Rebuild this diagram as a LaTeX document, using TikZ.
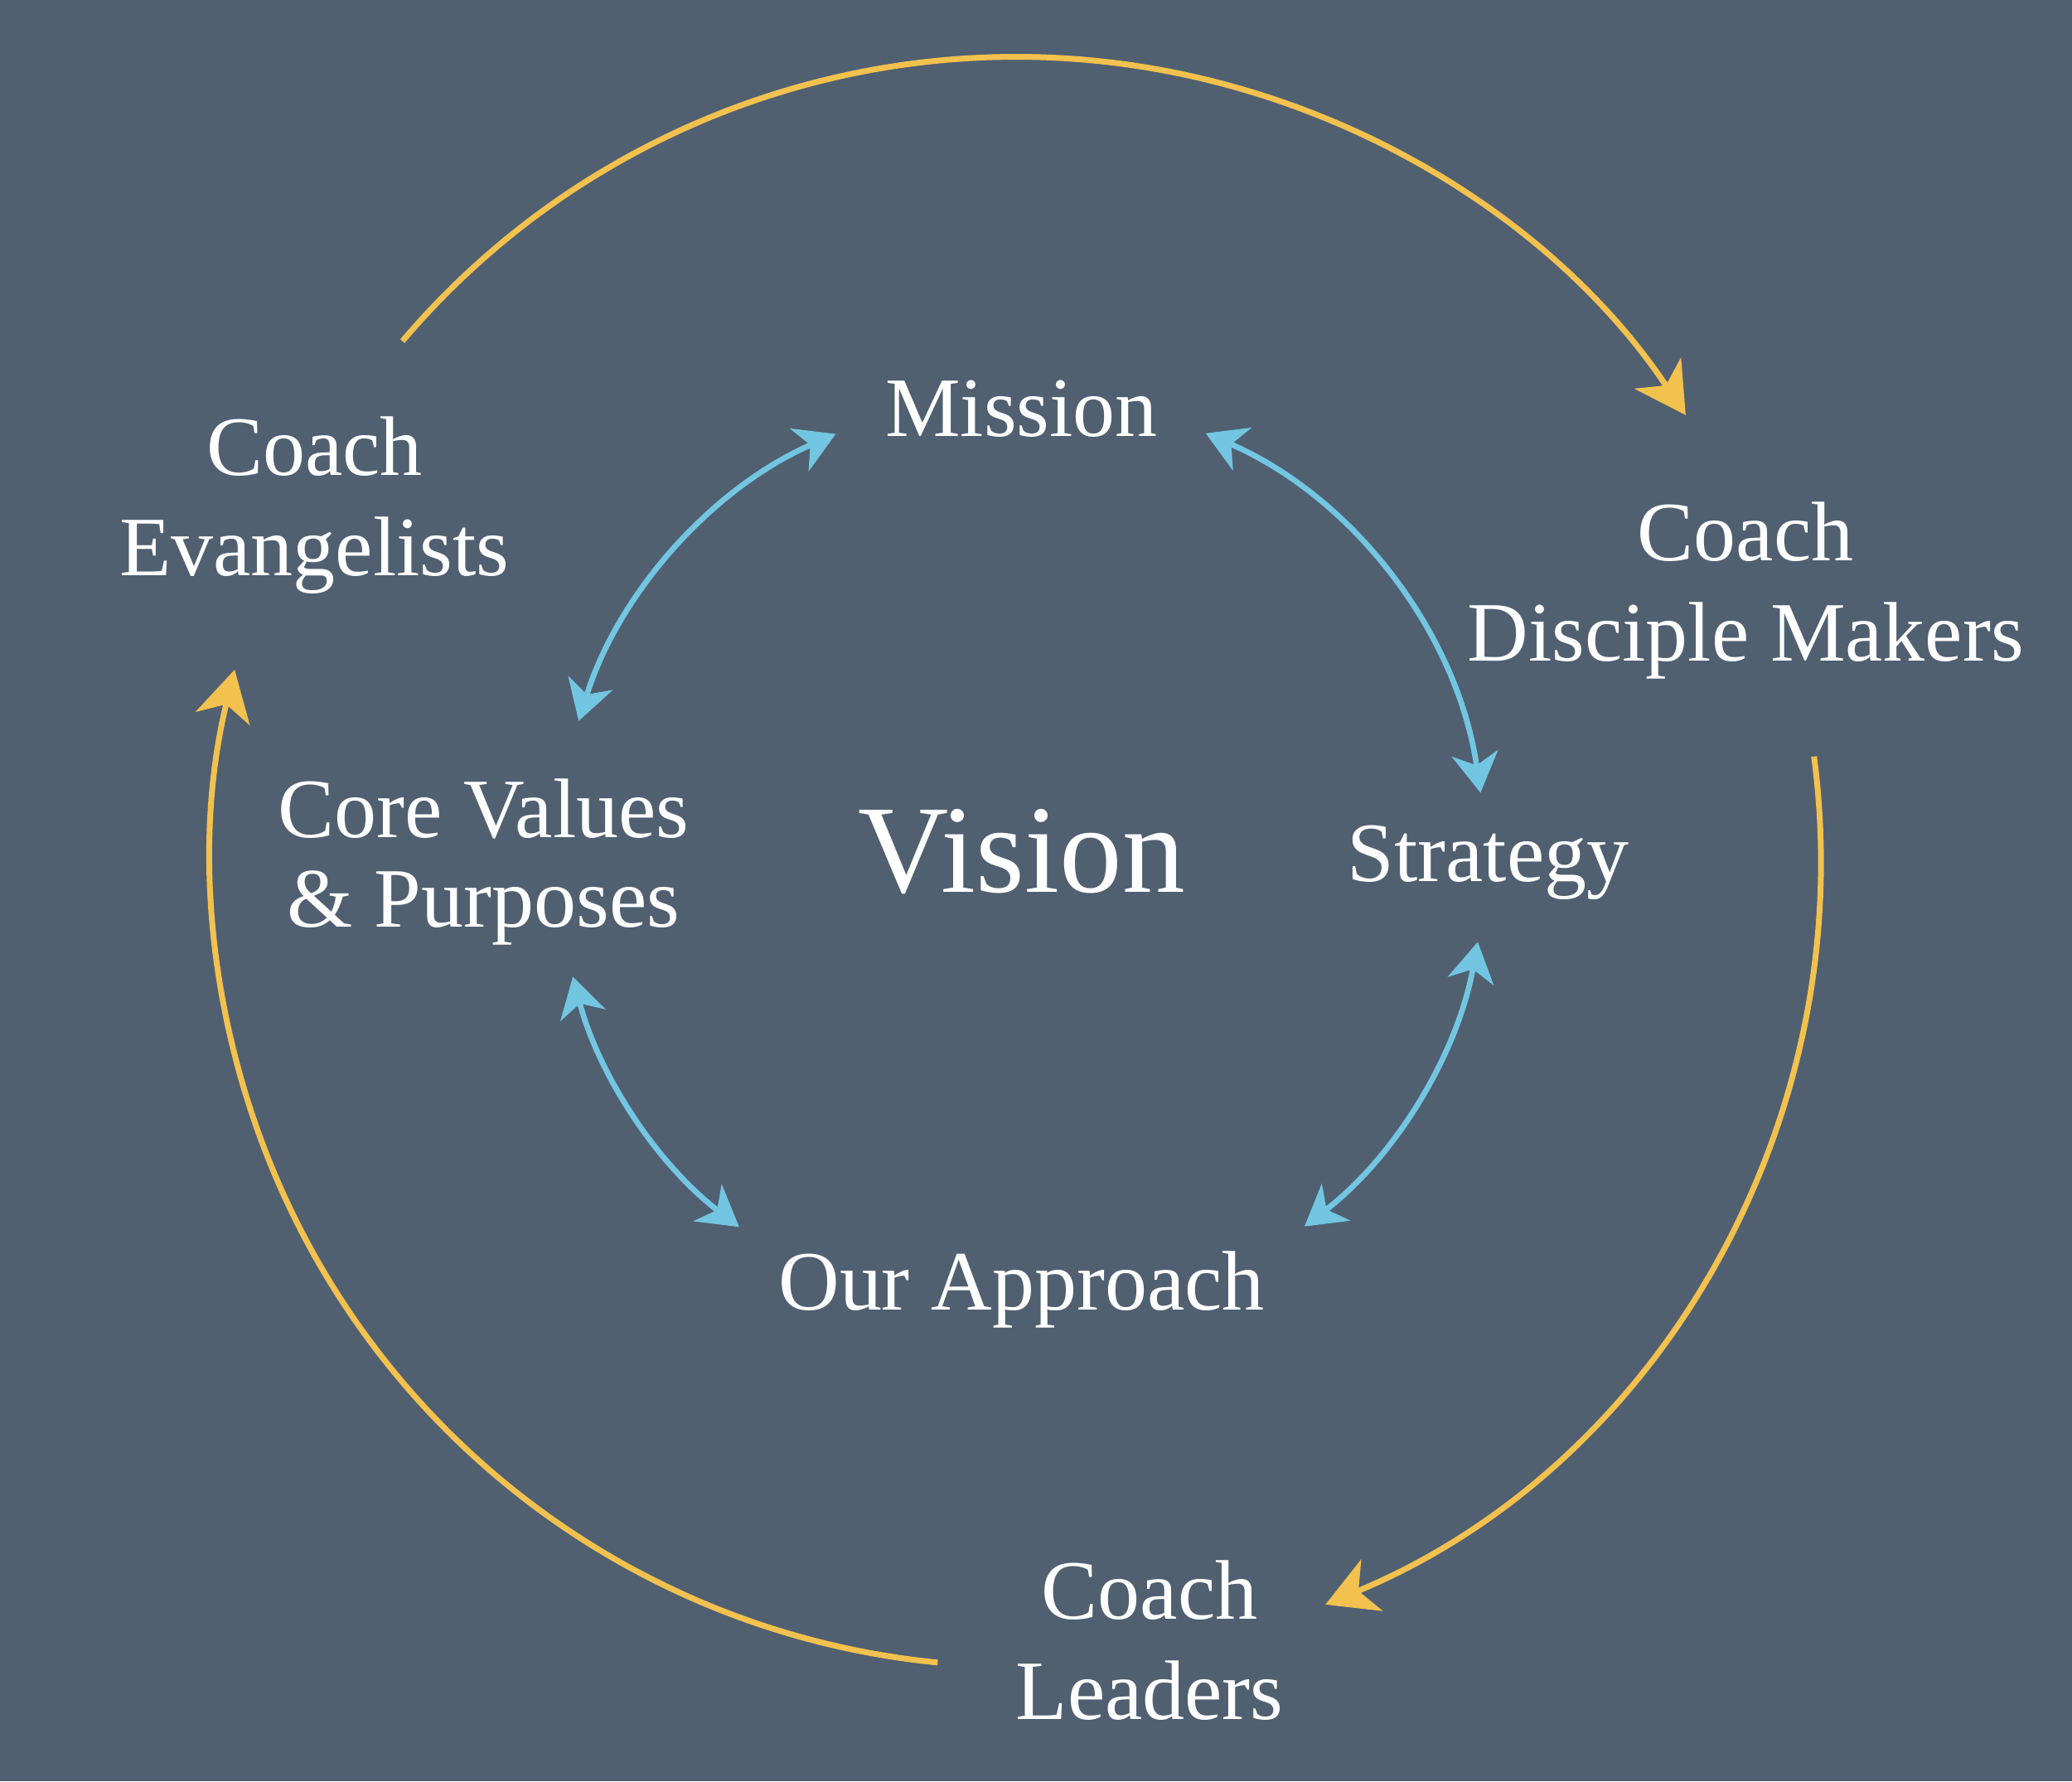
\documentclass[tikz,border=0pt]{standalone}
\usepackage{fontspec}
\setmainfont{Liberation Serif}
\usetikzlibrary{arrows.meta,calc}
\definecolor{bgc}{HTML}{506071}
\definecolor{gold}{HTML}{F2C14E}
\definecolor{sky}{HTML}{73C6E2}
\newcommand{\twolines}[2]{\begin{tabular}[t]{@{}c@{}}#1\\#2\end{tabular}}
\tikzset{
  lbl/.style={text=white, inner sep=0pt, anchor=base, font=\fontsize{18.2}{21.6}\selectfont},
  lbltight/.style={text=white, inner sep=0pt, anchor=base, font=\fontsize{18.2}{19.2}\selectfont},
  biglbl/.style={text=white, inner sep=0pt, anchor=base, font=\fontsize{27}{30}\selectfont},
  outerarc/.style={draw=gold, line width=1.25pt, -{Stealth[length=3.8mm,width=4.2mm,inset=1.1mm]}},
  innerarc/.style={draw=sky, line width=1.2pt, {Stealth[length=3mm,width=3.5mm,inset=0.9mm]}-{Stealth[length=3mm,width=3.5mm,inset=0.9mm]}}
}
\begin{document}
\begin{tikzpicture}
\fill[bgc] (0,0) rectangle (15.68,13.48);
\useasboundingbox (0,0) rectangle (15.68,13.48);
\coordinate (O) at (7.69,6.96);
\coordinate (I) at (7.73,6.98);
% labels
\node[lbl] (evang) at (2.38,9.88) {\twolines{Coach}{Evangelists}};
\node[lbl] (disc) at (13.21,9.24) {\twolines{Coach}{Disciple Makers}};
\node[lbl] (lead) at (8.70,1.23) {\twolines{Coach}{Leaders}};
\node[lbl] (mission) at (7.73,10.18) {Mission};
\node[lbltight] (core) at (3.66,7.14) {\twolines{Core Values}{\& Purposes}};
\node[biglbl] (vision) at (7.73,6.73) {Vision};
\node[lbl] (strat) at (11.26,6.81) {Strategy};
\node[lbl] (appr) at (7.73,3.57) {Our Approach};
% outer arc end points
\coordinate (y1s) at ($(O)+(139.7:6.09)$);
\coordinate (y2s) at ($(O)+(7.5:6.09)$);
\coordinate (y3s) at ($(O)+(264.4:6.09)$);
\draw[outerarc] (y1s) arc[start angle=139.7, end angle=33.7, radius=6.09];
\draw[outerarc] (y2s) arc[start angle=7.5, end angle=-67.4, radius=6.09];
\draw[outerarc] (y3s) arc[start angle=264.4, end angle=166.2, radius=6.09];
% inner arcs
\coordinate (b1s) at ($(I)+(113.6:3.51)$);
\coordinate (b2s) at ($(I)+(66.6:3.51)$);
\coordinate (b3s) at ($(I)+(194.7:3.51)$);
\coordinate (b4s) at ($(I)+(-10.3:3.51)$);
\draw[innerarc] (b1s) arc[start angle=113.6, end angle=162.7, radius=3.51];
\draw[innerarc] (b2s) arc[start angle=66.6, end angle=8.2, radius=3.51];
\draw[innerarc] (b3s) arc[start angle=194.7, end angle=232.5, radius=3.51];
\draw[innerarc] (b4s) arc[start angle=-10.3, end angle=-52.4, radius=3.51];
\end{tikzpicture}
\end{document}
